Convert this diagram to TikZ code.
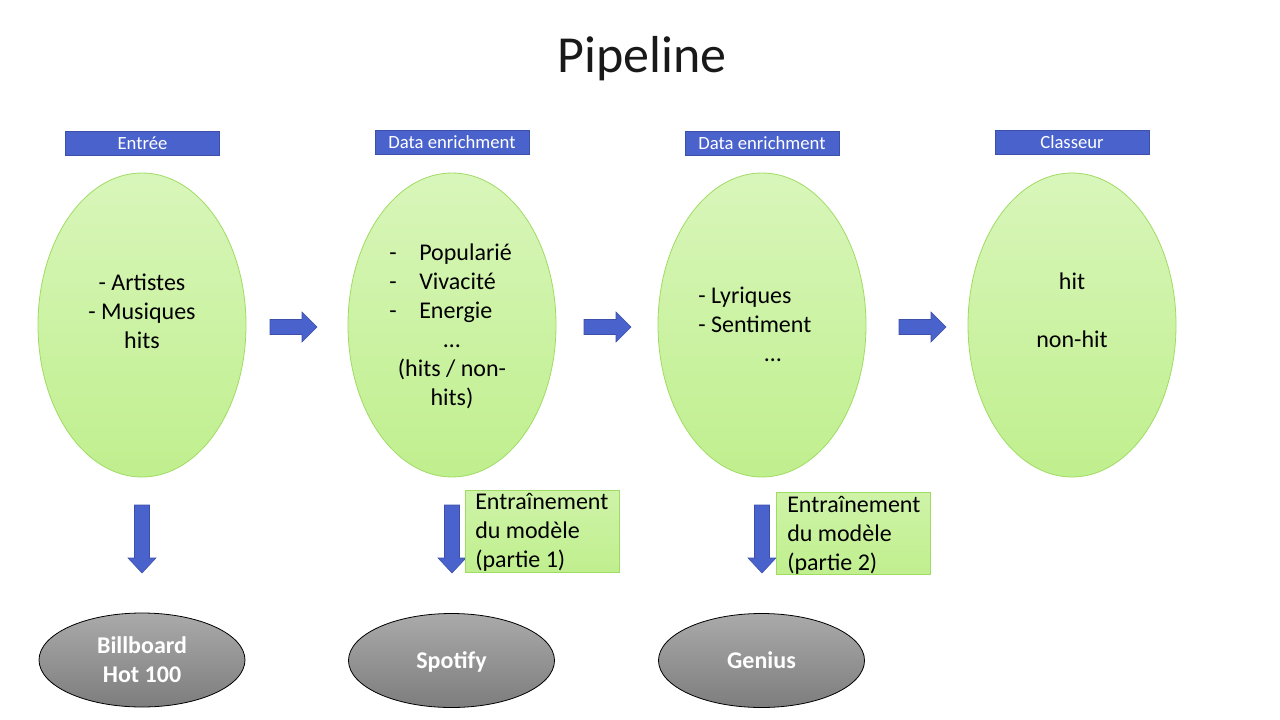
\documentclass[tikz,border=0pt]{standalone}
\usepackage{fontspec}
\setmainfont{Carlito}
\usetikzlibrary{shapes.geometric}
\definecolor{blueF}{RGB}{74,98,204}
\definecolor{blueD}{RGB}{60,80,170}
\definecolor{grTop}{RGB}{216,246,186}
\definecolor{grBot}{RGB}{192,239,142}
\definecolor{grEdge}{RGB}{160,220,100}
\definecolor{gyTop}{RGB}{170,170,170}
\definecolor{gyBot}{RGB}{125,125,125}
\tikzset{
  lbl/.style={rectangle, fill=blueF, draw=blueD, line width=0.5pt, minimum width=115.5pt, minimum height=18pt, inner sep=0pt, text=white, font=\fontsize{14}{16.8}\selectfont},
  greenell/.style={ellipse, top color=grTop, bottom color=grBot, draw=grEdge, line width=0.6pt, minimum width=156pt, minimum height=228pt, inner sep=0pt},
  grayell/.style={ellipse, top color=gyTop, bottom color=gyBot, draw=black, line width=0.6pt, minimum width=154.5pt, minimum height=70.5pt, inner sep=0pt},
  greenbox/.style={rectangle, top color=grTop!60!grBot, bottom color=grBot, draw=grEdge, line width=0.6pt, minimum width=116pt, minimum height=61.5pt, inner sep=0pt},
  txt/.style={font=\fontsize{18}{21.6}\selectfont, inner sep=0pt},
  wtxt/.style={font=\fontsize{18}{21.6}\selectfont\bfseries, text=white, inner sep=0pt, align=center},
  blockarrow/.style={fill=blueF, draw=blueD, line width=0.4pt},
}
\begin{document}
\begin{tikzpicture}[x=0.75pt,y=-0.75pt]
\useasboundingbox (0,0) rectangle (1280,720);
\fill[white] (0,0) rectangle (1280,720);

\node[font=\fontsize{39}{46}\selectfont, inner sep=0pt, text=black!90] (title) at (642,59) {Pipeline};

% top labels
\node[lbl] (l1) at (142.5,143) {Entrée};
\node[lbl] (l2) at (452,142) {Data enrichment};
\node[lbl] (l3) at (762,143) {Data enrichment};
\node[lbl] (l4) at (1072,142) {Classeur};

% green ellipses
\node[greenell] (e1) at (142,325) {};
\node[greenell] (e2) at (452,325) {};
\node[greenell] (e3) at (762,325) {};
\node[greenell] (e4) at (1072,325) {};

% ellipse texts
\node[txt, align=center] (t1) at (142,311) {- Artistes\\- Musiques\\hits};

\node[txt, anchor=base west] (t2a) at (389,260) {-};
\node[txt, anchor=base west] (t2b) at (419,260) {Popularié};
\node[txt, anchor=base west] (t2c) at (389,289) {-};
\node[txt, anchor=base west] (t2d) at (419,289) {Vivacité};
\node[txt, anchor=base west] (t2e) at (389,318) {-};
\node[txt, anchor=base west] (t2f) at (419,318) {Energie};
\node[txt, anchor=base] (t2g) at (452,347) {…};
\node[txt, anchor=base] (t2h) at (452,376) {(hits / non-};
\node[txt, anchor=base] (t2i) at (452,405) {hits)};

\node[txt, anchor=base west] (t3a) at (698,303) {- Lyriques};
\node[txt, anchor=base west] (t3b) at (698,332) {- Sentiment};
\node[txt, anchor=base] (t3c) at (773,361) {…};

\node[txt, anchor=base] (t4a) at (1072,289) {hit};
\node[txt, anchor=base] (t4b) at (1072,347) {non-hit};

% right block arrows
\foreach \x/\n in {270/r1, 584/r2, 899/r3}{
  \coordinate (\n) at (\x,327);
  \draw[blockarrow] (\n) ++(0,-7.5) -- ++(32,0) -- ++(0,-7.5) -- ++(15,15) -- ++(-15,15) -- ++(0,-7.5) -- ++(-32,0) -- cycle;
}

% down block arrows
\foreach \x/\n in {142/d1, 452/d2, 762/d3}{
  \coordinate (\n) at (\x,505);
  \draw[blockarrow] (\n) ++(-7.5,0) -- ++(15,0) -- ++(0,53) -- ++(6.5,0) -- ++(-14,15) -- ++(-14,-15) -- ++(6.5,0) -- cycle;
}

% green boxes
\node[greenbox] (g1) at (542.5,531) {};
\node[txt, align=left, anchor=north west] (g1t) at (475,493) {Entraînement\\du modèle\\(partie 1)};
\node[greenbox] (g2) at (853.5,533) {};
\node[txt, align=left, anchor=north west] (g2t) at (787,496) {Entraînement\\du modèle\\(partie 2)};

% gray ellipses
\node[grayell] (s1) at (142,660) {};
\node[wtxt] (s1t) at (142,660) {Billboard\\Hot 100};
\node[grayell] (s2) at (451.5,660.5) {};
\node[wtxt] (s2t) at (451.5,661.5) {Spotify};
\node[grayell] (s3) at (761.5,660.5) {};
\node[wtxt] (s3t) at (761.5,660.5) {Genius};
\end{tikzpicture}
\end{document}
